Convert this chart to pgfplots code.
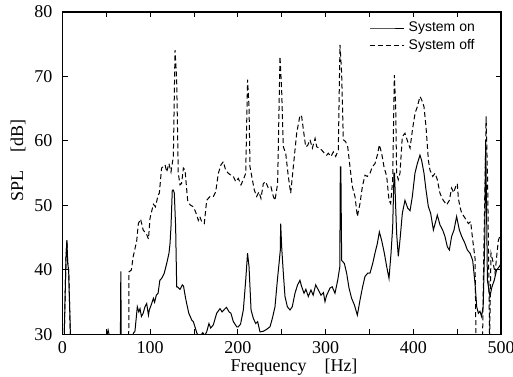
\documentclass[border=0pt]{standalone}
\usepackage{fontspec}
\setmainfont{Liberation Serif}
\newfontfamily\legfont{Liberation Sans}
\usepackage{pgfplots}
\pgfplotsset{compat=1.18}
\begin{document}
\begin{tikzpicture}
\begin{axis}[
  scale only axis,
  width=219.25pt, height=161.25pt,
  xmin=0, xmax=500, ymin=30, ymax=80,
  xtick={0,100,...,500},
  minor xtick={50,150,...,450},
  ytick={30,40,...,80},
  tick align=inside,
  major tick length=2.5pt, minor tick length=2.5pt,
  tick style={black, line width=0.5pt},
  axis line style={line width=0.6pt},
  /pgf/number format/assume math mode=true,
  ticklabel style={font=\fontsize{9}{10}\selectfont},
  yticklabel style={xshift=-1.5pt},
  xticklabel style={inner sep=1pt, yshift=-2.5pt},
  xlabel={Frequency\quad[Hz]},
  ylabel={SPL\quad[dB]},
  label style={font=\fontsize{9}{10}\selectfont, inner sep=0.5pt},
  xlabel style={at={([yshift=-16.5pt]axis description cs:0.528,0)}, anchor=center},
  ylabel style={at={([xshift=-22.25pt]axis description cs:0,0.541)}, anchor=center},
  legend style={at={(axis description cs:0.955,0.99)}, anchor=north east, draw=none, fill=none,
    font=\legfont\fontsize{7}{8}\selectfont, inner sep=1pt, row sep=-1.5pt},
  legend cell align=left,
]
\coordinate (SW) at (rel axis cs:0,0);
\coordinate (NE) at (rel axis cs:1,1);
\addplot[black, line width=0.5pt] coordinates {
(0,29) (2,30) (4,42) (5,44.6) (6,41) (7,40) (8,35) (9,30) (10,29)
(50,29.5) (52,30.7) (54,29.5) (66,29) (66.5,39.8) (67,29)
(80,29.5) (80.8,30.2) (82.6,30.5) (84.6,33.3) (85.3,34.3) (87,33.5) (88.4,34) (90,32.8) (92,33.3) (94,34.3) (96,34.8) (98,33) (99,33.8) (101.7,34.8) (103.6,35.6) (105,35) (107,36.1) (109,36.4) (111,38.4) (113,38.7) (115,39.2) (116,39.5) (118.8,41) (121.4,42.6) (122.6,44.1) (123.7,46.7) (125.2,52.4) (126.4,52.4) (127.5,51.9) (129,46.7) (130.2,37.4)
(131,37.4) (134,37) (136.6,37.7) (138,37.5) (140,35.9) (141.6,34.8) (144,33.3) (147.5,32.2) (149.2,32) (151,31.2) (153,30.3) (154,30) (156,29.5) (160,30.3) (162,29.8) (164.4,30.4) (167,31.7) (169,31) (172,31.5) (175.8,33.3) (179.6,34) (182,33.5) (185.3,34) (187,34.2) (190,33.5) (192,33.3) (194.8,32) (198.6,31.2) (200.5,31.2) (203,31.6) (206.2,33.8) (208.9,38.4) (211,42.6) (212.7,40.5) (215,33.8) (217.6,32.5) (220.3,31.7) (222.5,32) (225.2,30.4) (229,30.5) (232.8,30.8) (236.6,31.2) (239.3,32.5) (242.3,34.3) (245,38.4) (246.9,41) (248.3,43) (248.8,47.2) (249.9,43.6) (251.8,39.5) (253.7,35.9) (256.4,34.3) (259.4,33.8) (262,34.3) (265.1,36.4) (268.1,37.7) (270.8,38.4) (272.5,37.5) (275.4,36.4) (277.5,37) (280.3,35.9) (283.3,36.9) (285.8,36.1) (288.7,37.7) (291.7,36.9) (294.7,36.1) (297.5,36.5) (299.3,35.1) (301.2,36.1) (303,36.6) (305,37.2) (307.5,37.4) (310.7,36.4) (313.8,38.4) (316.2,40.5) (316.8,56) (317.4,56) (318.3,41.5) (321.4,41) (324,39.5) (326.7,37.2) (329.7,35.6) (332.8,34.6) (336.2,33) (339.2,35.3) (341.9,37.2) (344.9,39) (348,39.5) (350.6,39.5) (353.7,41) (356.3,42.6) (359,44.1) (361.3,45.9) (363.9,44.6) (367,42.6) (369.7,40.5) (372.3,38.7) (374.6,42.6) (376.5,46.7) (378,55) (378.6,55) (379.9,49.8) (381,45.7) (382.9,42.1) (384.8,44.6) (387.5,48.8) (390.5,50.8) (393.6,49.6) (396.3,49.2) (398.9,51.4) (401.9,55) (404.6,56.5) (407.6,57.8) (409.5,57) (412.2,55) (414.5,52.4) (417.2,49.8) (419.8,48.8) (422.9,46.2) (425.5,47.5) (427.4,48.5) (430.4,47) (433.5,46.2) (436.1,45.2) (438.8,43.6) (441.1,43.1) (443.7,45.2) (446.4,46.2) (449.4,48.3) (452.5,46.2) (455.2,45.2) (459,44.1) (461.6,43.1) (464.7,42.6) (467.7,41.5) (470.4,37.9) (472.3,34.3) (474.2,33.3) (476,33.6) (477.8,32.8) (479.7,34.3) (481.5,45) (482.5,60) (483.5,50) (484.5,38.4) (487.4,35.9) (489.7,37.4) (492.3,38.4) (495,40) (498,40.5) (500,41)
};
\addlegendentry{System on}
\addplot[black, line width=0.5pt, dash pattern=on 2.5pt off 1.5pt] coordinates {
(0,29) (2,30) (4,42) (5,44.6) (6,41) (7,40) (8,35) (9,30) (10,29) (75.5,29) (75.8,39.7) (78.5,40) (80.5,42) (84.6,44.5) (86.5,47.2) (89,47.9) (92,46.2) (96,45.5) (98,44.8) (99.8,48) (103.6,50.2) (106,49.8) (109,51.6) (110.4,51.9) (113,55.8) (117,56.3) (118.8,55.2) (121.4,56.5) (123.7,55.2) (126.4,57.6) (128.3,74.1) (130.2,69.5) (132,55) (134,53.2) (135.8,53.4) (137.8,55.8) (139.7,55.5) (142.7,50.8) (145.4,50.1) (149.2,49.8) (151.8,49) (154.9,47.7) (156.5,48.3) (158.7,47.5) (161.7,47.2) (164.4,50.8) (168.2,51.4) (172,51.4) (174.7,52.1) (177.7,55) (180.7,56.3) (183.4,56.8) (186,55.5) (189,55) (192,54.7) (194.8,54.5) (197.5,53.7) (200.5,54.2) (203.5,53.2) (206.2,54) (208.9,55) (211,69.5) (212.7,65.3) (213.8,56) (216.5,54) (218.7,52.4) (221.4,51.4) (224,52.1) (226.3,51.1) (229,53.4) (231.6,53.7) (234.7,52.7) (237.7,52.9) (240.4,51.4) (242.3,50.8) (245.3,53.4) (248,73.1) (249.9,67.9) (251.8,59.1) (254.5,58.1) (257.5,54.5) (260.2,51.9) (263.2,56) (267,61.2) (270.8,64) (272.7,63.8) (275.7,60.7) (277.3,59.1) (279.5,59.3) (282.2,60.2) (284.9,58.9) (288,60.4) (289.9,59.1) (292.5,58.9) (295.5,58.6) (298.6,58.1) (301.2,57.8) (303.1,58.1) (306.2,57.6) (308.8,58.3) (311.5,57.6) (314.5,58.6) (316.4,74.9) (318.3,70.5) (320.2,60.2) (322.8,59.9) (325.2,59.1) (327.8,56) (330.5,52.9) (333.5,51.4) (336.2,48.3) (339.2,50.3) (341.9,52.9) (344.9,54.7) (347.6,54.5) (350.6,55) (353.3,56) (356.3,56.5) (359,57.8) (361.3,59.4) (363.9,58.1) (366.6,56) (369.7,54.5) (372.3,50.8) (374.2,50.3) (376.5,54) (378.4,70.2) (379.9,65.3) (381,55) (382.9,54) (384.8,55) (387.5,60.7) (390.5,61.2) (393.6,59.9) (396.3,58.9) (399.3,62) (402,64.3) (404.6,65.3) (407.6,66.9) (409.5,66.4) (412.2,65.3) (414.5,62.2) (417.2,57) (419,55.5) (422.1,54.5) (424.8,55) (427.4,54) (430.4,51.9) (434.2,50.8) (438,50.1) (441.1,50.8) (443.7,52.7) (446,52) (448.3,52.9) (450.2,53.4) (451.4,51.1) (453.2,49.8) (455.2,48.8) (457.8,48.3) (460.1,47.8) (462.8,47.2) (465.4,47.5) (467.7,44.7) (470.4,41.8) (471.5,29) (479,29) (479.5,35) (483,63.8) (484.8,53.4) (487,29) (488.6,42.6) (490.5,41.5) (493.2,39.5) (495,42) (497,44.6) (500,45.7)
};
\addlegendentry{System off}
\end{axis}
\pgfresetboundingbox
\path[use as bounding box] ([xshift=-31.25pt,yshift=-21.25pt]SW) rectangle ([xshift=6pt,yshift=6pt]NE);
\end{tikzpicture}
\end{document}
